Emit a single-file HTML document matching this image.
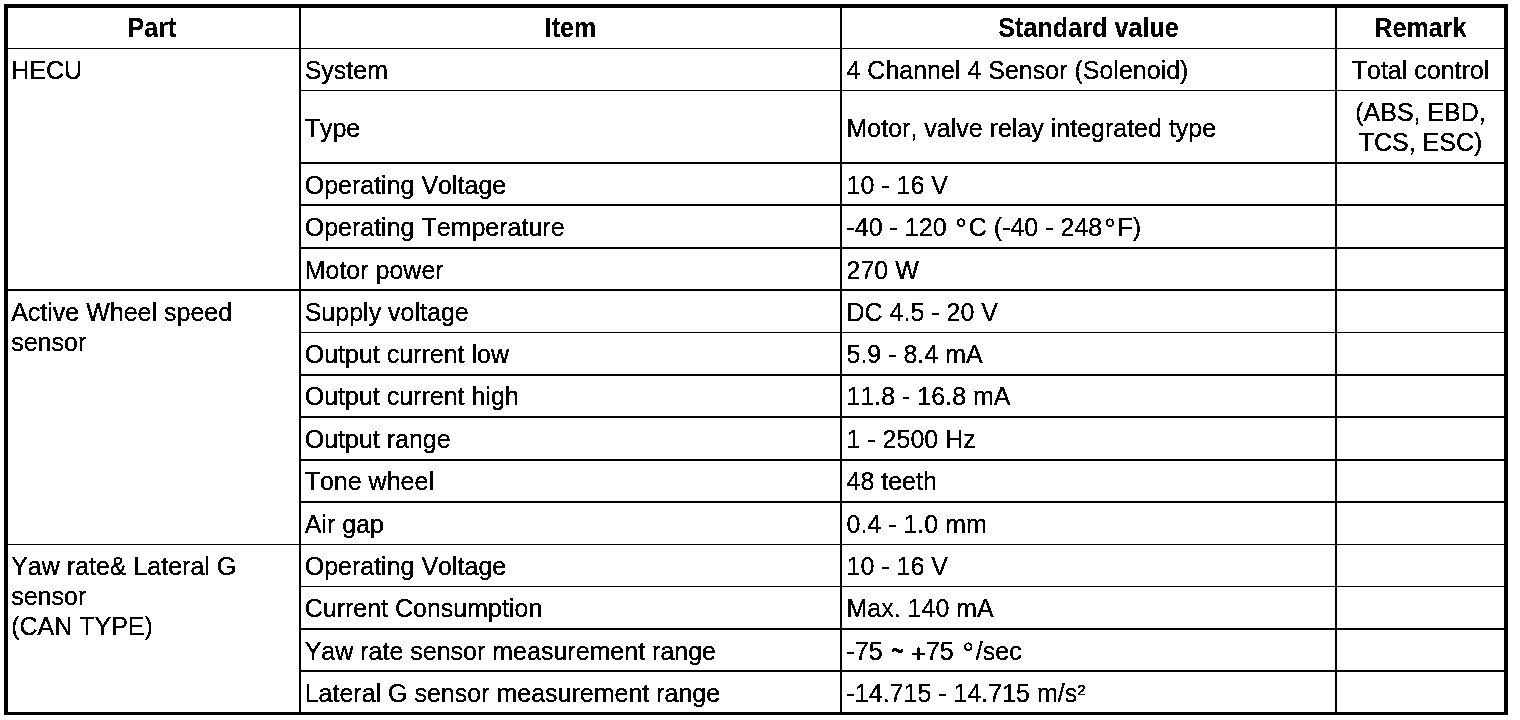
<!DOCTYPE html>
<html><head><meta charset="utf-8"><title>Specifications</title>
<style>
html,body{margin:0;padding:0;background:#fff;}
body{width:1520px;height:720px;position:relative;overflow:hidden;
 font-family:"Liberation Sans",sans-serif;font-size:25px;line-height:30px;color:#000;}
#pg{position:absolute;left:0;top:0;width:1520px;height:720px;background:#fff;filter:url(#bw);
 font-kerning:none;font-variant-ligatures:none;text-rendering:auto;-webkit-text-stroke:0.15px #000;}
.l{position:absolute;background:#000;}
.t{position:absolute;white-space:nowrap;}
.b{font-weight:bold;-webkit-text-stroke:0;letter-spacing:0.1px;transform:scaleY(1.07);transform-origin:0 24px;}
.ti{display:inline-block;transform:translate(0px,-1.1px) scale(0.87,1.7);transform-origin:50% 15.5px;}
.pl{position:relative;top:2px;}
.d{display:inline-block;width:15.3px;text-align:center;font-size:29px;line-height:0;position:relative;top:3px;}
.c{text-align:center;}
</style></head><body>
<svg width="0" height="0" style="position:absolute"><defs><filter id="bw" x="0" y="0" width="100%" height="100%" color-interpolation-filters="sRGB">
<feColorMatrix type="saturate" values="0"/>
<feComponentTransfer><feFuncR type="discrete" tableValues="0 0 0 1 1"/><feFuncG type="discrete" tableValues="0 0 0 1 1"/><feFuncB type="discrete" tableValues="0 0 0 1 1"/></feComponentTransfer>
</filter></defs></svg>
<div id="pg">

<div class="l" style="left:4px;top:4px;width:1504px;height:4px"></div>
<div class="l" style="left:4px;top:712px;width:1504px;height:3px"></div>
<div class="l" style="left:4px;top:4px;width:4px;height:711px"></div>
<div class="l" style="left:1504px;top:4px;width:4px;height:711px"></div>
<div class="l" style="left:299px;top:8px;width:2px;height:704px"></div>
<div class="l" style="left:840px;top:8px;width:2px;height:704px"></div>
<div class="l" style="left:1335px;top:8px;width:2px;height:704px"></div>
<div class="l" style="left:8px;top:48px;width:1496px;height:1px"></div>
<div class="l" style="left:301px;top:90px;width:1203px;height:1px"></div>
<div class="l" style="left:301px;top:162px;width:1203px;height:2px"></div>
<div class="l" style="left:301px;top:204px;width:1203px;height:2px"></div>
<div class="l" style="left:301px;top:247px;width:1203px;height:2px"></div>
<div class="l" style="left:8px;top:289px;width:1496px;height:2px"></div>
<div class="l" style="left:301px;top:332px;width:1203px;height:1px"></div>
<div class="l" style="left:301px;top:374px;width:1203px;height:2px"></div>
<div class="l" style="left:301px;top:416px;width:1203px;height:2px"></div>
<div class="l" style="left:301px;top:459px;width:1203px;height:2px"></div>
<div class="l" style="left:301px;top:501px;width:1203px;height:2px"></div>
<div class="l" style="left:8px;top:544px;width:1496px;height:1px"></div>
<div class="l" style="left:301px;top:586px;width:1203px;height:1px"></div>
<div class="l" style="left:301px;top:628px;width:1203px;height:2px"></div>
<div class="l" style="left:301px;top:670px;width:1203px;height:2px"></div>
<div class="t c b" style="left:6.5px;width:291px;top:13px">Part</div>
<div class="t c b" style="left:301px;width:539px;top:13px">Item</div>
<div class="t c b" style="left:842px;width:493px;top:13px">Standard value</div>
<div class="t c b" style="left:1337px;width:167px;top:13px">Remark</div>
<div class="t " style="left:11.2px;top:55px">HECU</div>
<div class="t " style="left:11.2px;top:297px">Active Wheel speed</div>
<div class="t " style="left:11.2px;top:327px">sensor</div>
<div class="t " style="left:11.2px;top:551px">Yaw rate&amp; Lateral G</div>
<div class="t " style="left:11.2px;top:581px">sensor</div>
<div class="t " style="left:11.2px;top:611px">(CAN TYPE)</div>
<div class="t " style="left:304.7px;top:55px">System</div>
<div class="t " style="left:846.5px;top:55px">4 Channel 4 Sensor (Solenoid)</div>
<div class="t " style="left:304.7px;top:113px">Type</div>
<div class="t " style="left:846.5px;top:113px">Motor, valve relay integrated type</div>
<div class="t " style="left:304.7px;top:170px">Operating Voltage</div>
<div class="t " style="left:846.5px;top:170px">10 - 16 V</div>
<div class="t " style="left:304.7px;top:212px">Operating Temperature</div>
<div class="t " style="left:846.5px;top:212px">-40 - 120 <span class="d">&deg;</span>C (-40 - 248<span class="d">&deg;</span>F)</div>
<div class="t " style="left:304.7px;top:255px">Motor power</div>
<div class="t " style="left:846.5px;top:255px">270 W</div>
<div class="t " style="left:304.7px;top:297px">Supply voltage</div>
<div class="t " style="left:846.5px;top:297px">DC 4.5 - 20 V</div>
<div class="t " style="left:304.7px;top:339px">Output current low</div>
<div class="t " style="left:846.5px;top:339px">5.9 - 8.4 mA</div>
<div class="t " style="left:304.7px;top:381px">Output current high</div>
<div class="t " style="left:846.5px;top:381px">11.8 - 16.8 mA</div>
<div class="t " style="left:304.7px;top:424px">Output range</div>
<div class="t " style="left:846.5px;top:424px">1 - 2500 Hz</div>
<div class="t " style="left:304.7px;top:466px">Tone wheel</div>
<div class="t " style="left:846.5px;top:466px">48 teeth</div>
<div class="t " style="left:304.7px;top:509px">Air gap</div>
<div class="t " style="left:846.5px;top:509px">0.4 - 1.0 mm</div>
<div class="t " style="left:304.7px;top:551px">Operating Voltage</div>
<div class="t " style="left:846.5px;top:551px">10 - 16 V</div>
<div class="t " style="left:304.7px;top:593px">Current Consumption</div>
<div class="t " style="left:846.5px;top:593px">Max. 140 mA</div>
<div class="t " style="left:304.7px;top:636px">Yaw rate sensor measurement range</div>
<div class="t " style="left:846.5px;top:636px">-75 <span class="ti">~</span> <span class="pl">+</span>75 <span class="d">&deg;</span>/sec</div>
<div class="t " style="left:304.7px;top:678px">Lateral G sensor measurement range</div>
<div class="t " style="left:846.5px;top:678px">-14.715 - 14.715 m/s&sup2;</div>
<div class="t c " style="left:1337px;width:167px;top:55px">Total control</div>
<div class="t c " style="left:1337px;width:167px;top:97px">(ABS, EBD,</div>
<div class="t c " style="left:1337px;width:167px;top:127px">TCS, ESC)</div>
</div></body></html>
